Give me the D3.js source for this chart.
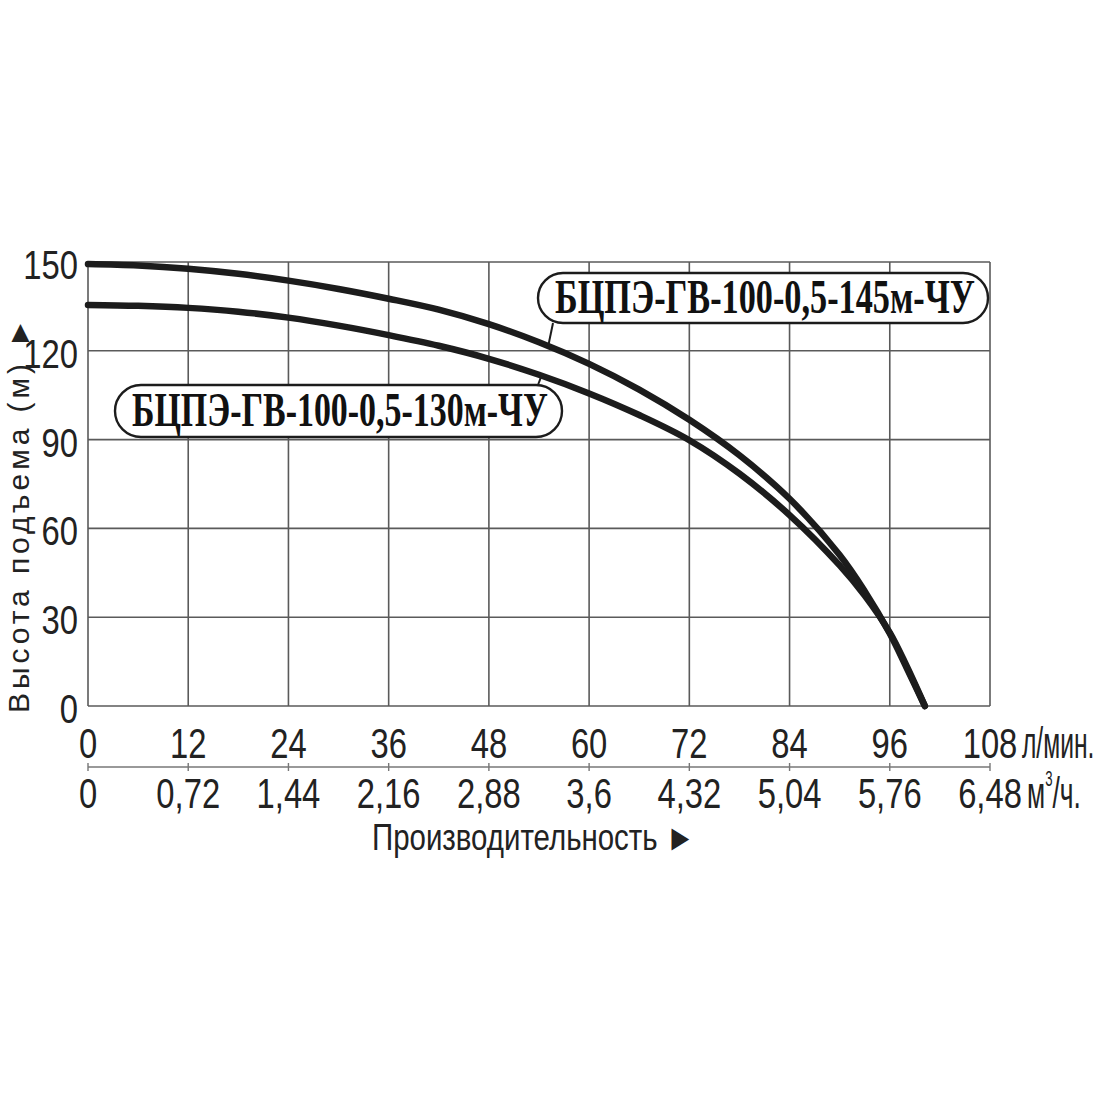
<!DOCTYPE html>
<html>
<head>
<meta charset="utf-8">
<script src="https://cdn.jsdelivr.net/npm/d3@7"></script>
<style>
  html, body { margin: 0; padding: 0; background: #fff; }
  svg { display: block; }
</style>
</head>
<body>
<div id="chart"></div>
<script>
// flow, l/min
var flow = [0, 6, 12, 18, 24, 30, 36, 42, 48, 54, 60, 66, 72, 78, 84, 90, 93, 96, 98, 100.2]
// head, m
var head145 = [149.3, 148.8, 147.7, 146.0, 143.7, 140.9, 137.6, 133.9, 129.0, 122.9, 115.6, 106.9, 96.7, 84.7, 70.0, 51.0, 38.8, 24.5, 13.0, 0]
var head130 = [135.5, 135.2, 134.5, 133.2, 131.2, 128.5, 125.3, 121.7, 117.3, 111.9, 105.6, 98.3, 89.8, 78.5, 64.5, 47.5, 37.3, 24.8, 13.6, 0]

var lpmTicks = [0, 12, 24, 36, 48, 60, 72, 84, 96, 108]
var m3hLabels = ['0', '0,72', '1,44', '2,16', '2,88', '3,6', '4,32', '5,04', '5,76', '6,48']
var headTicks = [0, 30, 60, 90, 120, 150]

var name145 = 'БЦПЭ-ГВ-100-0,5-145м-ЧУ'
var name130 = 'БЦПЭ-ГВ-100-0,5-130м-ЧУ'

var W = 1100, H = 1100
var margin = {top: 262, right: 110, bottom: 394, left: 88}

var svg = d3.select('#chart').append('svg').attr('width', W).attr('height', H)

var x = d3.scaleLinear().domain([0, 108]).range([margin.left, W - margin.right])
var y = d3.scaleLinear().domain([0, 150]).range([H - margin.bottom, margin.top])

var gridColor = '#5a5a5a'
var sans = '"Liberation Sans", Arial, sans-serif'
var serif = '"Liberation Serif", "Times New Roman", serif'

// grid
var grid = svg.append('g')
grid.selectAll('line.v').data(lpmTicks).enter().append('line')
	.attr('x1', d => x(d)).attr('x2', d => x(d))
	.attr('y1', y(0)).attr('y2', y(150))
	.attr('stroke', gridColor).attr('stroke-width', 1.6)
grid.selectAll('line.h').data(headTicks).enter().append('line')
	.attr('x1', x(0)).attr('x2', x(108))
	.attr('y1', d => y(d)).attr('y2', d => y(d))
	.attr('stroke', gridColor).attr('stroke-width', 1.6)

// y tick labels
svg.append('g').selectAll('text').data(headTicks).enter().append('text')
	.attr('transform', d => `translate(78,${y(d) + 17}) scale(0.8,1)`)
	.attr('text-anchor', 'end')
	.attr('font-family', sans).attr('font-size', 41).attr('fill', '#222')
	.text(d => d)

// top x labels (l/min)
var xRow1 = y(0) + 52
svg.append('g').selectAll('text').data(lpmTicks).enter().append('text')
	.attr('transform', d => `translate(${x(d)},${xRow1}) scale(0.78,1)`)
	.attr('text-anchor', 'middle')
	.attr('font-family', sans).attr('font-size', 42).attr('fill', '#222')
	.text(d => d)

svg.append('text')
	.attr('transform', `translate(1022,${xRow1}) scale(0.56,1)`)
	.attr('font-family', sans).attr('font-size', 44).attr('fill', '#222')
	.text('л/мин.')

// secondary axis (m3/h)
var axY = y(0) + 61
var ax2 = svg.append('g')
ax2.append('line')
	.attr('x1', x(0)).attr('x2', x(108)).attr('y1', axY).attr('y2', axY)
	.attr('stroke', '#777').attr('stroke-width', 1.4)
ax2.selectAll('line.t').data(lpmTicks).enter().append('line')
	.attr('x1', d => x(d)).attr('x2', d => x(d))
	.attr('y1', axY - 4).attr('y2', axY + 4)
	.attr('stroke', '#777').attr('stroke-width', 1.4)

var xRow2 = y(0) + 102
ax2.selectAll('text').data(lpmTicks).enter().append('text')
	.attr('transform', d => `translate(${x(d)},${xRow2}) scale(0.78,1)`)
	.attr('text-anchor', 'middle')
	.attr('font-family', sans).attr('font-size', 42).attr('fill', '#222')
	.text((d, i) => m3hLabels[i])

var unit2 = svg.append('text')
	.attr('transform', `translate(1027,${xRow2}) scale(0.6,1)`)
	.attr('font-family', sans).attr('font-size', 44).attr('fill', '#222')
unit2.append('tspan').text('м')
unit2.append('tspan').attr('font-size', 22).attr('dy', -22).text('3')
unit2.append('tspan').attr('dy', 22).text('/ч.')

// squeeze a text horizontally to a given width
function fitText(sel, x0, y0, w) {
	var n = sel.node().getComputedTextLength()
	sel.attr('transform', `translate(${x0},${y0}) scale(${w / n},1)`)
}

// axis titles
var xTitle = svg.append('text')
	.attr('font-family', sans).attr('font-size', 37).attr('fill', '#222')
	.text('Производительность ►')
fitText(xTitle, 372, 850, 323)

svg.append('text')
	.attr('transform', 'translate(29,713) rotate(-90)')
	.attr('font-family', sans).attr('font-size', 30).attr('fill', '#222')
	.attr('textLength', 395).attr('lengthAdjust', 'spacing')
	.text('Высота подъема (м) ►')

// curves
var line = d3.line().x(d => x(d[0])).y(d => y(d[1])).curve(d3.curveCatmullRom.alpha(0.5))
var curves = [head145, head130]
svg.append('g').selectAll('path').data(curves).enter().append('path')
	.attr('d', h => line(flow.map((q, i) => [q, h[i]])))
	.attr('fill', 'none').attr('stroke', '#1c1c1c').attr('stroke-width', 6.5)
	.attr('stroke-linecap', 'round')

// labels with leader lines
var at145 = d3.scaleLinear().domain(flow).range(head145)
var at130 = d3.scaleLinear().domain(flow).range(head130)

var labels = [
	{name: name145, box: [538, 273, 450, 50], q: 55.1, fn: at145, lead: [553, 323], text: [555, 313, 420]},
	{name: name130, box: [115, 385, 447, 52], q: 54.3, fn: at130, lead: [538, 385], text: [132, 426, 416]}
]

labels.forEach(l => {
	var g = svg.append('g')
	g.append('line')
		.attr('x1', l.lead[0]).attr('y1', l.lead[1])
		.attr('x2', x(l.q)).attr('y2', y(l.fn(l.q)))
		.attr('stroke', '#1c1c1c').attr('stroke-width', 2)
	g.append('rect')
		.attr('x', l.box[0]).attr('y', l.box[1])
		.attr('width', l.box[2]).attr('height', l.box[3])
		.attr('rx', l.box[3] / 2).attr('ry', l.box[3] / 2)
		.attr('fill', '#fff').attr('stroke', '#1c1c1c').attr('stroke-width', 2.4)
	var t = g.append('text')
		.attr('font-family', serif).attr('font-weight', 'bold').attr('font-size', 48)
		.attr('fill', '#111')
		.text(l.name)
	fitText(t, l.text[0], l.text[1], l.text[2])
})
</script>
</body>
</html>
